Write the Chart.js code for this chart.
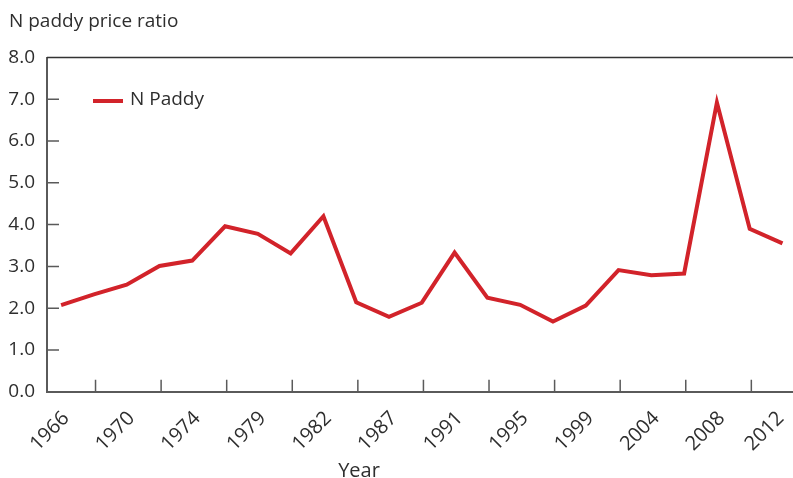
<!DOCTYPE html>
<html>
<head>
<meta charset="utf-8">
<script src="https://cdn.jsdelivr.net/npm/chart.js@4.4.1/dist/chart.umd.min.js"></script>
<style>
  body { margin: 0; background: #ffffff; }
</style>
</head>
<body>
<canvas id="myChart" width="793" height="478"></canvas>
<script>
// Year labels shown under the x axis (every second observation)
const yearLabels = ['1966', '1970', '1974', '1979', '1982', '1987', '1991', '1995', '1999', '2004', '2008', '2012'];
const paddyRatio = [2.07, 2.33, 2.56, 3.01, 3.14, 3.96, 3.78, 3.31, 4.20, 2.14, 1.79, 2.13,
                    3.33, 2.25, 2.08, 1.68, 2.06, 2.91, 2.79, 2.83, 6.92, 3.90, 3.55];
const seriesName = 'N Paddy';
const yTitle = 'N paddy price ratio';
const xTitle = 'Year';

const RED = '#d2232a';
const AXIS = '#5a5a5a';
const TEXT = '#2e2e2e';
const FONT = "'Open Sans', 'Liberation Sans', sans-serif";

// overlay: top border, inward tick marks, legend and titles
const decorations = {
    id: 'decorations',
    afterDraw(chart) {
        const ctx = chart.ctx;
        const area = chart.chartArea;
        const x = chart.scales.x;
        const y = chart.scales.y;
        ctx.save();

        // top border
        ctx.strokeStyle = '#333333';
        ctx.lineWidth = 1.5;
        ctx.beginPath();
        ctx.moveTo(area.left, area.top);
        ctx.lineTo(area.right + 1, area.top);
        ctx.stroke();

        // inward ticks
        ctx.strokeStyle = AXIS;
        ctx.lineWidth = 1.5;
        ctx.beginPath();
        for (let v = 1; v < 8; v++) {
            const py = y.getPixelForValue(v);
            ctx.moveTo(area.left, py);
            ctx.lineTo(area.left + 12, py);
        }
        for (let k = 0; k < yearLabels.length - 1; k++) {
            const px = x.getPixelForValue(1.05 + 2 * k);
            ctx.moveTo(px, area.bottom);
            ctx.lineTo(px, area.bottom - 12);
        }
        ctx.stroke();

        // legend
        ctx.strokeStyle = RED;
        ctx.lineWidth = 4;
        ctx.beginPath();
        ctx.moveTo(93, 101);
        ctx.lineTo(123, 101);
        ctx.stroke();

        ctx.fillStyle = TEXT;
        ctx.font = '19px ' + FONT;
        ctx.textBaseline = 'middle';
        ctx.textAlign = 'left';
        ctx.fillText(seriesName, 130, 100);

        // titles
        ctx.textBaseline = 'alphabetic';
        ctx.fillText(yTitle, 9, 27);
        ctx.font = '20px ' + FONT;
        ctx.textAlign = 'center';
        ctx.fillText(xTitle, 359, 477);
        ctx.restore();
    }
};

const ctx = document.getElementById('myChart').getContext('2d');
new Chart(ctx, {
    type: 'line',
    data: {
        datasets: [{
            label: seriesName,
            data: paddyRatio.map((v, i) => ({ x: i, y: v })),
            borderColor: RED,
            borderWidth: 4,
            borderJoinStyle: 'miter',
            pointRadius: 0,
            tension: 0,
            fill: false
        }]
    },
    options: {
        responsive: false,
        animation: false,
        layout: {
            padding: { top: 57.5, right: 1, bottom: 0, left: 0 }
        },
        scales: {
            x: {
                type: 'linear',
                min: -0.43,
                max: 22.29,
                border: { color: AXIS, width: 2 },
                grid: { display: false, drawTicks: false },
                afterBuildTicks: scale => {
                    scale.ticks = yearLabels.map((l, k) => ({ value: Math.min(0.15 + 2 * k, 21.95) }));
                },
                afterFit: scale => {
                    scale.height = 86.3;
                    scale.paddingLeft = 0;
                    scale.paddingRight = 0;
                },
                ticks: {
                    autoSkip: false,
                    minRotation: 45,
                    maxRotation: 45,
                    padding: 15,
                    color: TEXT,
                    font: { family: FONT, size: 20 },
                    callback: (value, index) => yearLabels[index]
                }
            },
            y: {
                min: 0,
                max: 8,
                border: { color: AXIS, width: 2 },
                grid: { display: false, drawTicks: false },
                afterFit: scale => {
                    scale.width = 47;
                    scale.paddingTop = 0;
                    scale.paddingBottom = 0;
                },
                ticks: {
                    stepSize: 1,
                    padding: 12,
                    color: TEXT,
                    font: { family: FONT, size: 19 },
                    callback: v => v.toFixed(1)
                }
            }
        },
        plugins: {
            legend: { display: false },
            tooltip: { enabled: false }
        }
    },
    plugins: [decorations]
});
</script>
</body>
</html>
